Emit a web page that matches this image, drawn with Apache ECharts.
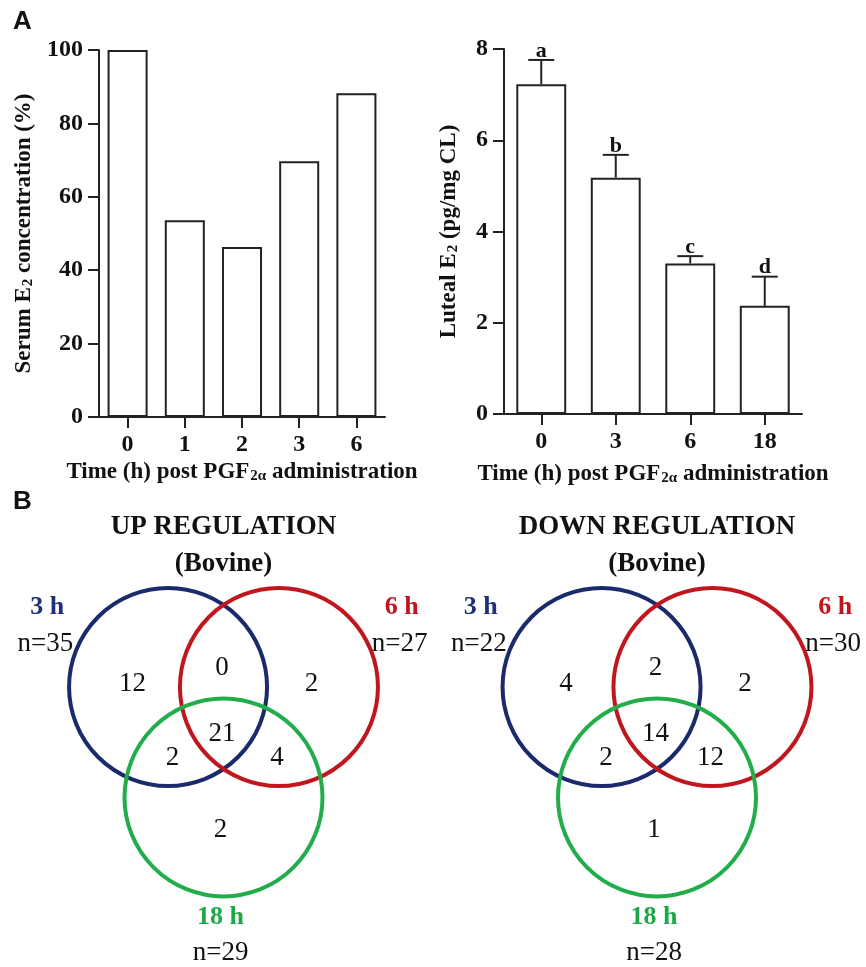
<!DOCTYPE html>
<html><head><meta charset="utf-8">
<script src="https://cdn.jsdelivr.net/npm/echarts@6/dist/echarts.min.js"></script>
<style>html,body{margin:0;padding:0;background:#fff}#c{width:866px;height:967px}</style>
</head><body><div id="c"></div>
<script>
// ---- data ----
const serumCats = ['0', '1', '2', '3', '6'];
const serumVals = [100, 53.6, 46.3, 69.7, 88.2];
const lutealCats = ['0', '3', '6', '18'];
const lutealMean = [7.23, 5.18, 3.30, 2.37];
const lutealUpper = [7.76, 5.68, 3.46, 3.01];
const lutealLetters = ['a', 'b', 'c', 'd'];
const setNames = ['3 h', '6 h', '18 h'];
const upTotals = [35, 27, 29];
const downTotals = [22, 30, 28];
// region order: 3h only, 3h&6h, 6h only, all three, 3h&18h, 6h&18h, 18h only
const upCounts = [12, 0, 2, 21, 2, 4, 2];
const downCounts = [4, 2, 2, 14, 2, 12, 1];

// ---- layout (Venn unit coordinates, radius = 1) ----
const circlePos = [[-0.56, 0], [0.56, 0], [0, -1.115]];
const regionPos = [[-0.92, 0.03], [-0.015, 0.19], [0.89, 0.03], [-0.015, -0.47], [-0.515, -0.72], [0.54, -0.72], [-0.03, -1.44]];
const setNamePos = [[-1.78, 0.81], [1.80, 0.81], [-0.03, -2.33]];
const setTotalPos = [[-1.80, 0.44], [1.78, 0.44], [-0.03, -2.685]];
const setColors = ['#1b2a6b', '#c0161e', '#22ad4b'];
const setTextColors = ['#1f2f78', '#c3141c', '#1fa847'];

const SERIF = 'Liberation Serif';
const ink = '#222';

const chart = echarts.init(document.getElementById('c'), null, {renderer: 'canvas'});

function subRich(size) {
  return {
    sub: {fontFamily: SERIF, fontWeight: 'bold', fontSize: size, verticalAlign: 'bottom', lineHeight: 23, padding: [0, 0, 0, 1]}
  };
}
function barYAxis(gi, max, interval, name, gap) {
  return {
    gridIndex: gi, type: 'value', min: 0, max: max, interval: interval,
    axisLine: {show: true, lineStyle: {color: ink, width: 2}},
    axisTick: {show: true, length: 11, lineStyle: {color: ink, width: 2}},
    splitLine: {show: false},
    axisLabel: {margin: 16, color: '#111', fontFamily: SERIF, fontWeight: 'bold', fontSize: 24},
    name: name, nameLocation: 'middle', nameGap: gap,
    nameTextStyle: {color: '#111', fontFamily: SERIF, fontWeight: 'bold', fontSize: 23, rich: subRich(15)}
  };
}
function barXAxis(gi, cats, gap) {
  return {
    gridIndex: gi, type: 'category', data: cats,
    axisLine: {show: true, lineStyle: {color: ink, width: 2}},
    axisTick: {show: true, alignWithLabel: true, length: 11, lineStyle: {color: ink, width: 2}},
    axisLabel: {margin: 16, color: '#111', fontFamily: SERIF, fontWeight: 'bold', fontSize: 24},
    name: 'Time (h) post PGF{sub|2α} administration', nameLocation: 'middle', nameGap: gap,
    nameTextStyle: {color: '#111', fontFamily: SERIF, fontWeight: 'bold', fontSize: 23, rich: subRich(15)}
  };
}
function vennAxes(gi) {
  return {
    x: {gridIndex: gi, type: 'value', min: -2, max: 2, show: false},
    y: {gridIndex: gi, type: 'value', min: -2.8, max: 1.8, show: false}
  };
}
const v2 = vennAxes(2), v3 = vennAxes(3);

function circleSeries(gi) {
  return {
    type: 'custom', xAxisIndex: gi, yAxisIndex: gi, silent: true,
    data: circlePos.map((p, i) => [p[0], p[1], i]),
    renderItem: function (params, api) {
      const c = api.coord([api.value(0), api.value(1)]);
      const r = api.size([1, 0])[0];
      return {type: 'circle', shape: {cx: c[0], cy: c[1], r: r},
        style: {fill: 'none', stroke: setColors[api.value(2)], lineWidth: 4}};
    }
  };
}
function textSeries(gi, positions, texts, styleFn) {
  return {
    type: 'scatter', xAxisIndex: gi, yAxisIndex: gi, silent: true, symbolSize: 0,
    itemStyle: {opacity: 1},
    data: positions.map((p, i) => ({value: [p[0], p[1]], label: styleFn(i, texts[i])})),
    label: {show: true, position: 'inside', opacity: 1}
  };
}
function vennSeries(gi, counts, totals) {
  return [
    circleSeries(gi),
    textSeries(gi, regionPos, counts, (i, t) => ({show: true, formatter: String(t), color: '#111', fontFamily: SERIF, fontSize: 27})),
    textSeries(gi, setNamePos, setNames, (i, t) => ({show: true, formatter: t, color: setTextColors[i], fontFamily: SERIF, fontWeight: 'bold', fontSize: 26})),
    textSeries(gi, setTotalPos, totals, (i, t) => ({show: true, formatter: 'n=' + t, color: '#111', fontFamily: SERIF, fontSize: 27}))
  ];
}

const option = {
  backgroundColor: '#fff',
  animation: false,
  title: [
    {text: 'A', left: 13, top: 9, padding: 0, textStyle: {fontFamily: 'Liberation Sans', fontWeight: 'bold', fontSize: 26, color: '#111'}},
    {text: 'B', left: 13, top: 489, padding: 0, textStyle: {fontFamily: 'Liberation Sans', fontWeight: 'bold', fontSize: 26, color: '#111'}},
    {text: 'UP REGULATION', left: 223.5, top: 514, textAlign: 'center', padding: 0, textStyle: {fontFamily: SERIF, fontWeight: 'bold', fontSize: 27, color: '#111'}},
    {text: '(Bovine)', left: 223.5, top: 551, textAlign: 'center', padding: 0, textStyle: {fontFamily: SERIF, fontWeight: 'bold', fontSize: 27, color: '#111'}},
    {text: 'DOWN REGULATION', left: 657, top: 514, textAlign: 'center', padding: 0, textStyle: {fontFamily: SERIF, fontWeight: 'bold', fontSize: 27, color: '#111'}},
    {text: '(Bovine)', left: 657, top: 551, textAlign: 'center', padding: 0, textStyle: {fontFamily: SERIF, fontWeight: 'bold', fontSize: 27, color: '#111'}}
  ],
  grid: [
    {left: 99, top: 50, width: 286, height: 367},
    {left: 504, top: 49, width: 298, height: 365},
    {left: 25.5, top: 508.8, width: 396, height: 455.4},
    {left: 459, top: 508.8, width: 396, height: 455.4}
  ],
  xAxis: [barXAxis(0, serumCats, 44), barXAxis(1, lutealCats, 49), v2.x, v3.x],
  yAxis: [
    barYAxis(0, 100, 20, 'Serum E{sub|2} concentration (%)', 63),
    barYAxis(1, 8, 2, 'Luteal E{sub|2} (pg/mg CL)', 43),
    v2.y, v3.y
  ],
  series: [
    {type: 'bar', xAxisIndex: 0, yAxisIndex: 0, data: serumVals, barWidth: '70%',
      itemStyle: {color: '#fff', borderColor: ink, borderWidth: 2}, silent: true},
    {type: 'bar', xAxisIndex: 1, yAxisIndex: 1, data: lutealMean, barWidth: '67%',
      itemStyle: {color: '#fff', borderColor: ink, borderWidth: 2}, silent: true},
    {type: 'custom', xAxisIndex: 1, yAxisIndex: 1, silent: true, z: 5,
      data: lutealMean.map((m, i) => [i, m, lutealUpper[i]]),
      renderItem: function (params, api) {
        const b = api.coord([api.value(0), api.value(1)]);
        const t = api.coord([api.value(0), api.value(2)]);
        const half = 13;
        const st = {stroke: ink, lineWidth: 2};
        return {type: 'group', children: [
          {type: 'line', shape: {x1: b[0], y1: b[1], x2: t[0], y2: t[1]}, style: st},
          {type: 'line', shape: {x1: t[0] - half, y1: t[1], x2: t[0] + half, y2: t[1]}, style: st},
          {type: 'text', style: {x: t[0], y: t[1] + 2, text: lutealLetters[params.dataIndex], textAlign: 'center', textVerticalAlign: 'bottom',
            fontFamily: SERIF, fontWeight: 'bold', fontSize: 22, fill: '#111'}}
        ]};
      }
    }
  ].concat(vennSeries(2, upCounts, upTotals), vennSeries(3, downCounts, downTotals)),
  graphic: [
    {type: 'line', shape: {x1: 88, y1: 417, x2: 100, y2: 417}, style: {stroke: ink, lineWidth: 2}},
    {type: 'line', shape: {x1: 495, y1: 414, x2: 505, y2: 414}, style: {stroke: ink, lineWidth: 2}}
  ]
};
chart.setOption(option);
</script></body></html>
